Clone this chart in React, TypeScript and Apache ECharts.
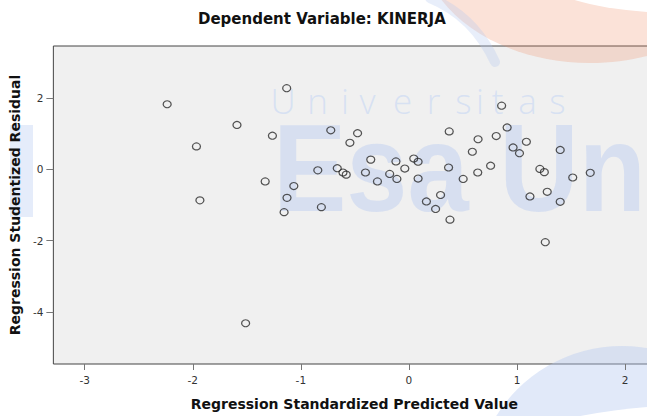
import React, { useEffect, useRef } from "react";
import * as echarts from "echarts";

// Regression Standardized Predicted Value (x) and Studentized Residual (y)
const predicted = [
  -2.237, -1.131, -1.591, -1.263, -0.723, -1.966, -0.843, -0.663, -0.61, -0.58,
  -1.33, -1.065, -1.128, -1.934, -0.81, -1.155, -1.511, -0.475, -0.546, -0.402,
  -0.353, -0.291, -0.178, -0.12, -0.111, -0.038, 0.045, 0.085, 0.085, 0.162,
  0.247, 0.293, 0.38, 0.373, 0.367, 0.502, 0.587, 0.64, 0.637, 0.756,
  0.808, 0.858, 0.909, 0.964, 1.023, 1.087, 1.12, 1.212, 1.253, 1.28,
  1.4, 1.4, 1.516, 1.678, 1.262,
];
const residual = [
  1.82, 2.27, 1.24, 0.94, 1.09, 0.64, -0.03, 0.03, -0.09, -0.15,
  -0.34, -0.47, -0.8, -0.87, -1.06, -1.2, -4.31, 1.01, 0.74, -0.09,
  0.27, -0.34, -0.13, 0.22, -0.27, 0.02, 0.3, 0.21, -0.26, -0.9,
  -1.11, -0.72, -1.41, 1.06, 0.05, -0.27, 0.49, 0.84, -0.09, 0.1,
  0.93, 1.78, 1.17, 0.61, 0.45, 0.77, -0.76, 0.01, -0.08, -0.63,
  0.54, -0.91, -0.23, -0.1, -2.04,
];
const xTicks = [-3, -2, -1, 0, 1, 2];
const yTicks = [-4, -2, 0, 2];

const titleText = "Dependent Variable: KINERJA";
const xName = "Regression Standardized Predicted Value";
const yName = "Regression Studentized Residual";

// watermark text
const wmLetters = ["U", "n", "i", "v", "e", "r", "s", "i", "t", "a", "s"];
const wmLetterX = [283, 317.5, 345, 367.5, 402.5, 433.5, 463.5, 480, 497.5, 527.5, 557.5];
const wmBig = "Esa Un";

export default function App() {
  const ref = useRef<HTMLDivElement>(null);

  useEffect(() => {
    if (!ref.current) return;
    const chart = echarts.init(ref.current, null, { renderer: "svg" });
    const data = predicted.map((x, i) => [x, residual[i]]);
    const blue = "rgba(180,200,240,0.42)";

    const graphic: any[] = [
      // orange crescent top right
      { type: "ellipse", z: 1, silent: true, shape: { cx: 590, cy: -60, rx: 170, ry: 123 }, style: { fill: "rgba(240,140,100,0.25)" } },
      { type: "ellipse", z: 1, silent: true, shape: { cx: 680, cy: -25, rx: 140, ry: 38 }, style: { fill: "#ffffff" } },
      // blue swoosh
      { type: "bezierCurve", z: 1, silent: true, shape: { x1: 430, y1: -2, cpx1: 474, cpy1: 16, x2: 495, y2: 62 }, style: { stroke: "rgba(180,200,240,0.3)", lineWidth: 10, fill: null, lineCap: "round" } },
      // blue arc bottom right
      { type: "circle", z: 1, silent: true, shape: { cx: 622, cy: 494, r: 148 }, style: { fill: "rgba(180,200,240,0.4)" } },
      { type: "circle", z: 1, silent: true, shape: { cx: 700, cy: 1060, r: 655 }, style: { fill: "#ffffff" } },
      // blue block left
      { type: "rect", z: 1, silent: true, shape: { x: 10, y: 125, width: 23, height: 92 }, style: { fill: "rgba(180,200,240,0.35)" } },
      // big text
      {
        type: "text", z: 1, silent: true, x: 273, y: 167, scaleX: 0.88,
        style: {
          text: wmBig, x: 0, y: 0, font: "bold 125px 'Liberation Sans', Arial, sans-serif",
          fill: blue, textAlign: "left", align: "left", textVerticalAlign: "middle", verticalAlign: "middle",
        },
      },
      ...wmLetters.map((ch, i) => ({
        type: "text", z: 1, silent: true,
        style: {
          text: ch, x: wmLetterX[i], y: 100, font: "300 35px 'Open Sans', sans-serif",
          fill: "rgba(190,210,245,0.5)", textAlign: "center", align: "center",
          textVerticalAlign: "middle", verticalAlign: "middle",
        },
      })),
    ];

    chart.setOption({
      animation: false,
      backgroundColor: "#ffffff",
      title: {
        text: titleText,
        left: 198,
        top: 11,
        padding: 0,
        z: 6,
        textStyle: { fontFamily: "'DejaVu Sans', sans-serif", fontSize: 15, fontWeight: "bold", color: "#111" },
      },
      grid: {
        left: 49.3,
        top: 46,
        right: 44.7,
        bottom: 51.5,
        show: true,
        backgroundColor: "#f0f0f0",
        borderColor: "#444",
        borderWidth: 1,
        z: 0,
      },
      graphic: { elements: graphic },
      xAxis: {
        type: "value",
        min: -3.29,
        max: 2.28,
        z: 3,
        position: "bottom",
        name: xName,
        nameLocation: "middle",
        nameGap: 33,
        nameTextStyle: { fontFamily: "'DejaVu Sans', sans-serif", fontSize: 14, fontWeight: "bold", color: "#111" },
        axisLine: { show: false, onZero: false },
        splitLine: { show: false },
        axisTick: { show: true, length: 6, customValues: xTicks, lineStyle: { color: "#777" } },
        axisLabel: {
          customValues: xTicks,
          margin: 10,
          fontFamily: "'DejaVu Sans', sans-serif",
          fontSize: 10.5,
          color: "#333",
        },
      },
      yAxis: {
        type: "value",
        min: -5.45,
        max: 3.45,
        z: 3,
        position: "left",
        name: yName,
        nameLocation: "middle",
        nameGap: 26,
        nameRotate: 90,
        nameTextStyle: { fontFamily: "'DejaVu Sans', sans-serif", fontSize: 14, fontWeight: "bold", color: "#111" },
        axisLine: { show: false, onZero: false },
        splitLine: { show: false },
        axisTick: { show: true, length: 7, customValues: yTicks, lineStyle: { color: "#777" } },
        axisLabel: {
          customValues: yTicks,
          margin: 10,
          fontFamily: "'DejaVu Sans', sans-serif",
          fontSize: 10.5,
          color: "#333",
        },
      },
      series: [
        {
          type: "scatter",
          z: 4,
          silent: true,
          symbol: "circle",
          symbolSize: [8, 7],
          itemStyle: { color: "rgba(0,0,0,0)", borderColor: "#2a2a2a", borderWidth: 1.2 },
          data,
        },
      ],
    });
    return () => chart.dispose();
  }, []);

  return (
    <div style={{ position: "fixed", left: 0, top: 0, width: 647, height: 416, overflow: "hidden", background: "#fff" }}>
      <div ref={ref} style={{ width: 700, height: 416 }} />
    </div>
  );
}
